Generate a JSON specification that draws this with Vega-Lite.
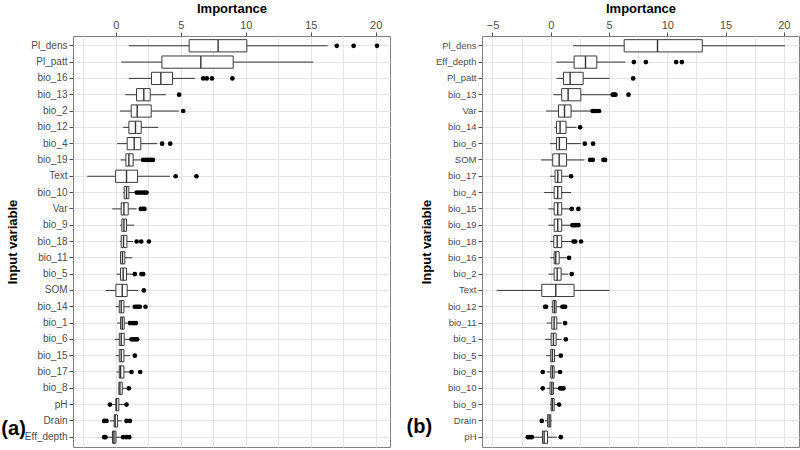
{
  "$schema": "https://vega.github.io/schema/vega-lite/v6.json",
  "background": "white",
  "padding": {"left": 0, "top": 1, "right": 3, "bottom": 2},
  "spacing": 14,
  "config": {
    "font": "Liberation Sans",
    "view": {"stroke": "#808080", "strokeWidth": 1},
    "axis": {
      "labelFont": "Liberation Sans",
      "labelFontSize": 11,
      "labelColor": "#4d4d4d",
      "titleFont": "Liberation Sans",
      "titleFontSize": 13,
      "titleFontWeight": "bold",
      "titleColor": "#000000",
      "domain": false,
      "tickColor": "#4d4d4d",
      "tickSize": 4,
      "labelPadding": 2,
      "gridColor": "#e5e5e5",
      "gridWidth": 1
    }
  },
  "datasets": {
    "a_box": [
      {"v": "Pl_dens", "lo": 1.0, "q1": 5.64, "med": 7.87, "q3": 10.08, "hi": 16.3},
      {"v": "Pl_patt", "lo": 0.41, "q1": 3.54, "med": 6.54, "q3": 9.03, "hi": 15.2},
      {"v": "bio_16", "lo": 1.0, "q1": 2.74, "med": 3.46, "q3": 4.36, "hi": 6.08},
      {"v": "bio_13", "lo": 0.72, "q1": 1.59, "med": 2.15, "q3": 2.64, "hi": 3.85},
      {"v": "bio_2", "lo": 0.31, "q1": 1.18, "med": 1.64, "q3": 2.72, "hi": 4.85},
      {"v": "bio_12", "lo": 0.56, "q1": 1.0, "med": 1.51, "q3": 1.95, "hi": 3.26},
      {"v": "bio_4", "lo": 0.1, "q1": 0.87, "med": 1.41, "q3": 1.92, "hi": 3.18},
      {"v": "bio_19", "lo": 0.36, "q1": 0.77, "med": 1.0, "q3": 1.33, "hi": 2.0},
      {"v": "Text", "lo": -2.2, "q1": -0.02, "med": 0.82, "q3": 1.67, "hi": 4.15},
      {"v": "bio_10", "lo": 0.56, "q1": 0.64, "med": 0.82, "q3": 1.0, "hi": 1.41},
      {"v": "Var", "lo": -0.28, "q1": 0.41, "med": 0.62, "q3": 0.95, "hi": 1.59},
      {"v": "bio_9", "lo": 0.31, "q1": 0.46, "med": 0.62, "q3": 0.82, "hi": 1.41},
      {"v": "bio_18", "lo": 0.31, "q1": 0.41, "med": 0.59, "q3": 0.85, "hi": 1.33},
      {"v": "bio_11", "lo": 0.31, "q1": 0.36, "med": 0.51, "q3": 0.69, "hi": 1.26},
      {"v": "bio_5", "lo": 0.05, "q1": 0.36, "med": 0.56, "q3": 0.82, "hi": 1.33},
      {"v": "SOM", "lo": -0.77, "q1": 0.0, "med": 0.49, "q3": 0.87, "hi": 1.72},
      {"v": "bio_14", "lo": 0.0, "q1": 0.26, "med": 0.41, "q3": 0.62, "hi": 1.08},
      {"v": "bio_1", "lo": 0.1, "q1": 0.36, "med": 0.49, "q3": 0.64, "hi": 0.9},
      {"v": "bio_6", "lo": -0.08, "q1": 0.26, "med": 0.41, "q3": 0.64, "hi": 1.03},
      {"v": "bio_15", "lo": 0.0, "q1": 0.26, "med": 0.41, "q3": 0.62, "hi": 1.08},
      {"v": "bio_17", "lo": 0.05, "q1": 0.26, "med": 0.36, "q3": 0.62, "hi": 1.08},
      {"v": "bio_8", "lo": 0.18, "q1": 0.23, "med": 0.31, "q3": 0.49, "hi": 0.82},
      {"v": "pH", "lo": -0.28, "q1": 0.0, "med": 0.05, "q3": 0.23, "hi": 0.69},
      {"v": "Drain", "lo": -0.46, "q1": -0.13, "med": -0.05, "q3": 0.13, "hi": 0.44},
      {"v": "Eff_depth", "lo": -0.59, "q1": -0.26, "med": -0.15, "q3": 0.0, "hi": 0.44}
    ],
    "a_out": [
      {"v": "Pl_dens", "x": 17.0}, {"v": "Pl_dens", "x": 18.3}, {"v": "Pl_dens", "x": 20.1},
      {"v": "bio_16", "x": 6.72}, {"v": "bio_16", "x": 7.0}, {"v": "bio_16", "x": 7.4}, {"v": "bio_16", "x": 8.97},
      {"v": "bio_13", "x": 4.87},
      {"v": "bio_2", "x": 5.18},
      {"v": "bio_4", "x": 3.56}, {"v": "bio_4", "x": 4.18},
      {"v": "bio_19", "x": 2.1}, {"v": "bio_19", "x": 2.3}, {"v": "bio_19", "x": 2.5}, {"v": "bio_19", "x": 2.7}, {"v": "bio_19", "x": 2.85},
      {"v": "Text", "x": 4.6}, {"v": "Text", "x": 6.2},
      {"v": "bio_10", "x": 1.6}, {"v": "bio_10", "x": 1.8}, {"v": "bio_10", "x": 2.0}, {"v": "bio_10", "x": 2.2}, {"v": "bio_10", "x": 2.36},
      {"v": "Var", "x": 1.92}, {"v": "Var", "x": 2.1}, {"v": "Var", "x": 2.2},
      {"v": "bio_18", "x": 1.6}, {"v": "bio_18", "x": 1.95}, {"v": "bio_18", "x": 2.54},
      {"v": "bio_5", "x": 1.46}, {"v": "bio_5", "x": 1.97}, {"v": "bio_5", "x": 2.1},
      {"v": "SOM", "x": 2.15},
      {"v": "bio_14", "x": 1.46}, {"v": "bio_14", "x": 1.6}, {"v": "bio_14", "x": 1.72}, {"v": "bio_14", "x": 1.85}, {"v": "bio_14", "x": 2.28},
      {"v": "bio_1", "x": 1.08}, {"v": "bio_1", "x": 1.25}, {"v": "bio_1", "x": 1.4}, {"v": "bio_1", "x": 1.55},
      {"v": "bio_6", "x": 1.2}, {"v": "bio_6", "x": 1.35}, {"v": "bio_6", "x": 1.5}, {"v": "bio_6", "x": 1.64},
      {"v": "bio_15", "x": 1.46},
      {"v": "bio_17", "x": 1.2}, {"v": "bio_17", "x": 1.87},
      {"v": "bio_8", "x": 1.0},
      {"v": "pH", "x": -0.46}, {"v": "pH", "x": 0.82},
      {"v": "Drain", "x": -0.9}, {"v": "Drain", "x": -0.72}, {"v": "Drain", "x": 0.82}, {"v": "Drain", "x": 1.08},
      {"v": "Eff_depth", "x": -0.9}, {"v": "Eff_depth", "x": -0.8}, {"v": "Eff_depth", "x": 0.56}, {"v": "Eff_depth", "x": 0.82}, {"v": "Eff_depth", "x": 1.03}
    ],
    "b_box": [
      {"v": "Pl_dens", "lo": 1.92, "q1": 6.3, "med": 9.16, "q3": 13.0, "hi": 20.1},
      {"v": "Eff_depth", "lo": 0.49, "q1": 2.0, "med": 2.98, "q3": 3.95, "hi": 6.41},
      {"v": "Pl_patt", "lo": 0.49, "q1": 1.09, "med": 1.66, "q3": 2.78, "hi": 5.04},
      {"v": "bio_13", "lo": 0.23, "q1": 0.94, "med": 1.49, "q3": 2.58, "hi": 5.21},
      {"v": "Var", "lo": -0.4, "q1": 0.66, "med": 1.18, "q3": 1.74, "hi": 3.52},
      {"v": "bio_14", "lo": 0.32, "q1": 0.49, "med": 0.8, "q3": 1.31, "hi": 2.2},
      {"v": "bio_6", "lo": -0.06, "q1": 0.49, "med": 0.74, "q3": 1.35, "hi": 2.58},
      {"v": "SOM", "lo": -0.83, "q1": 0.17, "med": 0.72, "q3": 1.35, "hi": 2.89},
      {"v": "bio_17", "lo": -0.06, "q1": 0.37, "med": 0.6, "q3": 0.94, "hi": 1.52},
      {"v": "bio_4", "lo": -0.57, "q1": 0.29, "med": 0.6, "q3": 0.94, "hi": 1.74},
      {"v": "bio_15", "lo": -0.2, "q1": 0.29, "med": 0.6, "q3": 0.94, "hi": 1.66},
      {"v": "bio_19", "lo": -0.2, "q1": 0.29, "med": 0.6, "q3": 0.94, "hi": 1.74},
      {"v": "bio_18", "lo": -0.06, "q1": 0.26, "med": 0.55, "q3": 0.94, "hi": 1.8},
      {"v": "bio_16", "lo": -0.06, "q1": 0.29, "med": 0.43, "q3": 0.72, "hi": 1.37},
      {"v": "bio_2", "lo": -0.2, "q1": 0.29, "med": 0.55, "q3": 0.89, "hi": 1.52},
      {"v": "Text", "lo": -4.64, "q1": -0.77, "med": 0.43, "q3": 2.0, "hi": 5.04},
      {"v": "bio_12", "lo": 0.03, "q1": 0.17, "med": 0.32, "q3": 0.46, "hi": 0.88},
      {"v": "bio_11", "lo": -0.34, "q1": 0.09, "med": 0.29, "q3": 0.52, "hi": 0.94},
      {"v": "bio_1", "lo": -0.49, "q1": 0.03, "med": 0.23, "q3": 0.46, "hi": 0.94},
      {"v": "bio_5", "lo": -0.4, "q1": 0.0, "med": 0.14, "q3": 0.32, "hi": 0.66},
      {"v": "bio_8", "lo": -0.34, "q1": 0.0, "med": 0.14, "q3": 0.29, "hi": 0.66},
      {"v": "bio_10", "lo": -0.34, "q1": -0.06, "med": 0.09, "q3": 0.23, "hi": 0.66},
      {"v": "bio_9", "lo": -0.06, "q1": 0.03, "med": 0.14, "q3": 0.29, "hi": 0.52},
      {"v": "Drain", "lo": -0.49, "q1": -0.27, "med": -0.14, "q3": 0.0, "hi": 0.09},
      {"v": "pH", "lo": -1.49, "q1": -0.71, "med": -0.57, "q3": -0.28, "hi": 0.52}
    ],
    "b_out": [
      {"v": "Eff_depth", "x": 7.13}, {"v": "Eff_depth", "x": 8.16}, {"v": "Eff_depth", "x": 10.76}, {"v": "Eff_depth", "x": 11.25},
      {"v": "Pl_patt", "x": 7.07},
      {"v": "bio_13", "x": 5.32}, {"v": "bio_13", "x": 5.45}, {"v": "bio_13", "x": 5.55}, {"v": "bio_13", "x": 6.67},
      {"v": "Var", "x": 3.6}, {"v": "Var", "x": 3.75}, {"v": "Var", "x": 3.89}, {"v": "Var", "x": 4.15},
      {"v": "bio_14", "x": 2.52},
      {"v": "bio_6", "x": 2.92}, {"v": "bio_6", "x": 3.63},
      {"v": "SOM", "x": 3.38}, {"v": "SOM", "x": 3.6}, {"v": "SOM", "x": 4.52}, {"v": "SOM", "x": 4.66},
      {"v": "bio_17", "x": 1.74},
      {"v": "bio_15", "x": 1.8}, {"v": "bio_15", "x": 2.37},
      {"v": "bio_19", "x": 1.86}, {"v": "bio_19", "x": 2.0}, {"v": "bio_19", "x": 2.15}, {"v": "bio_19", "x": 2.37},
      {"v": "bio_18", "x": 1.95}, {"v": "bio_18", "x": 2.1}, {"v": "bio_18", "x": 2.6},
      {"v": "bio_16", "x": 1.57},
      {"v": "bio_2", "x": 1.8},
      {"v": "bio_12", "x": -0.49}, {"v": "bio_12", "x": -0.4}, {"v": "bio_12", "x": 1.0}, {"v": "bio_12", "x": 1.12}, {"v": "bio_12", "x": 1.23},
      {"v": "bio_11", "x": 1.23},
      {"v": "bio_1", "x": 1.29},
      {"v": "bio_5", "x": 0.86},
      {"v": "bio_8", "x": -0.69}, {"v": "bio_8", "x": 0.8},
      {"v": "bio_10", "x": -0.69}, {"v": "bio_10", "x": 0.8}, {"v": "bio_10", "x": 0.95}, {"v": "bio_10", "x": 1.09},
      {"v": "bio_9", "x": 0.72},
      {"v": "Drain", "x": -0.77},
      {"v": "pH", "x": -1.97}, {"v": "pH", "x": -1.8}, {"v": "pH", "x": -1.63}, {"v": "pH", "x": 0.86}
    ]
  },
  "hconcat": [
    {
      "width": 317,
      "height": 411,
      "view": {"stroke": "#808080", "strokeWidth": 1},
      "title": {"text": "(a)", "orient": "bottom", "anchor": "start", "frame": "bounds", "fontSize": 20, "fontWeight": "bold", "font": "Liberation Sans", "color": "#000000", "dx": -5, "dy": -32},
      "encoding": {
        "y": {
          "field": "v", "type": "nominal", "title": "Input variable",
          "scale": {"type": "band", "paddingInner": 0, "paddingOuter": 0.1,
            "domain": ["Pl_dens", "Pl_patt", "bio_16", "bio_13", "bio_2", "bio_12", "bio_4", "bio_19", "Text", "bio_10", "Var", "bio_9", "bio_18", "bio_11", "bio_5", "SOM", "bio_14", "bio_1", "bio_6", "bio_15", "bio_17", "bio_8", "pH", "Drain", "Eff_depth"]},
          "axis": {"grid": true, "bandPosition": 0.5, "labelPadding": 2, "titlePadding": 5, "labelFontSize": 10}
        }
      },
      "layer": [
        {
          "data": {"name": "a_box"},
          "mark": {"type": "rule", "color": "#333333", "strokeWidth": 1},
          "encoding": {
            "x": {"field": "lo", "type": "quantitative", "title": "Importance",
              "scale": {"domain": [-3.3, 21.1], "nice": false, "zero": false},
              "axis": {"orient": "top", "values": [-2.5, 0, 2.5, 5, 7.5, 10, 12.5, 15, 17.5, 20], "grid": true,
                "labelExpr": "datum.value % 5 === 0 ? datum.label : ''",
                "tickOpacity": {"condition": {"test": "datum.value % 5 !== 0", "value": 0}, "value": 1},
                "titlePadding": 4}},
            "x2": {"field": "hi"}
          }
        },
        {
          "data": {"name": "a_box"},
          "mark": {"type": "bar", "fill": "white", "stroke": "#3a3a3a", "strokeWidth": 1, "height": {"band": 0.75}},
          "encoding": {
            "x": {"field": "q1", "type": "quantitative", "title": "Importance",
              "scale": {"domain": [-3.3, 21.1], "nice": false, "zero": false},
              "axis": {"orient": "top", "values": [-2.5, 0, 2.5, 5, 7.5, 10, 12.5, 15, 17.5, 20], "grid": true,
                "labelExpr": "datum.value % 5 === 0 ? datum.label : ''",
                "tickOpacity": {"condition": {"test": "datum.value % 5 !== 0", "value": 0}, "value": 1},
                "titlePadding": 4}},
            "x2": {"field": "q3"}
          }
        },
        {
          "data": {"name": "a_box"},
          "mark": {"type": "bar", "fill": "white", "stroke": "#333333", "strokeWidth": 1.4, "height": {"band": 0.75}},
          "encoding": {
            "x": {"field": "med", "type": "quantitative", "title": "Importance",
              "scale": {"domain": [-3.3, 21.1], "nice": false, "zero": false},
              "axis": {"orient": "top", "values": [-2.5, 0, 2.5, 5, 7.5, 10, 12.5, 15, 17.5, 20], "grid": true,
                "labelExpr": "datum.value % 5 === 0 ? datum.label : ''",
                "tickOpacity": {"condition": {"test": "datum.value % 5 !== 0", "value": 0}, "value": 1},
                "titlePadding": 4}},
            "x2": {"field": "med"}
          }
        },
        {
          "data": {"name": "a_out"},
          "mark": {"type": "point", "filled": true, "color": "#000000", "opacity": 1, "size": 22},
          "encoding": {
            "x": {"field": "x", "type": "quantitative", "title": "Importance",
              "scale": {"domain": [-3.3, 21.1], "nice": false, "zero": false},
              "axis": {"orient": "top", "values": [-2.5, 0, 2.5, 5, 7.5, 10, 12.5, 15, 17.5, 20], "grid": true,
                "labelExpr": "datum.value % 5 === 0 ? datum.label : ''",
                "tickOpacity": {"condition": {"test": "datum.value % 5 !== 0", "value": 0}, "value": 1},
                "titlePadding": 4}}
          }
        }
      ]
    },
    {
      "width": 317,
      "height": 411,
      "view": {"stroke": "#808080", "strokeWidth": 1},
      "title": {"text": "(b)", "orient": "bottom", "anchor": "start", "frame": "bounds", "fontSize": 20, "fontWeight": "bold", "font": "Liberation Sans", "color": "#000000", "dx": -14, "dy": -34},
      "encoding": {
        "y": {
          "field": "v", "type": "nominal", "title": "Input variable",
          "scale": {"type": "band", "paddingInner": 0, "paddingOuter": 0.1,
            "domain": ["Pl_dens", "Eff_depth", "Pl_patt", "bio_13", "Var", "bio_14", "bio_6", "SOM", "bio_17", "bio_4", "bio_15", "bio_19", "bio_18", "bio_16", "bio_2", "Text", "bio_12", "bio_11", "bio_1", "bio_5", "bio_8", "bio_10", "bio_9", "Drain", "pH"]},
          "axis": {"grid": true, "bandPosition": 0.5, "labelPadding": 2, "titlePadding": 2, "labelFontSize": 9.5}
        }
      },
      "layer": [
        {
          "data": {"name": "b_box"},
          "mark": {"type": "rule", "color": "#333333", "strokeWidth": 1},
          "encoding": {
            "x": {"field": "lo", "type": "quantitative", "title": "Importance",
              "scale": {"domain": [-5.9, 21.3], "nice": false, "zero": false},
              "axis": {"orient": "top", "values": [-5, -2.5, 0, 2.5, 5, 7.5, 10, 12.5, 15, 17.5, 20], "grid": true,
                "labelExpr": "datum.value % 5 === 0 ? datum.label : ''",
                "tickOpacity": {"condition": {"test": "datum.value % 5 !== 0", "value": 0}, "value": 1},
                "titlePadding": 4}},
            "x2": {"field": "hi"}
          }
        },
        {
          "data": {"name": "b_box"},
          "mark": {"type": "bar", "fill": "white", "stroke": "#3a3a3a", "strokeWidth": 1, "height": {"band": 0.75}},
          "encoding": {
            "x": {"field": "q1", "type": "quantitative", "title": "Importance",
              "scale": {"domain": [-5.9, 21.3], "nice": false, "zero": false},
              "axis": {"orient": "top", "values": [-5, -2.5, 0, 2.5, 5, 7.5, 10, 12.5, 15, 17.5, 20], "grid": true,
                "labelExpr": "datum.value % 5 === 0 ? datum.label : ''",
                "tickOpacity": {"condition": {"test": "datum.value % 5 !== 0", "value": 0}, "value": 1},
                "titlePadding": 4}},
            "x2": {"field": "q3"}
          }
        },
        {
          "data": {"name": "b_box"},
          "mark": {"type": "bar", "fill": "white", "stroke": "#333333", "strokeWidth": 1.4, "height": {"band": 0.75}},
          "encoding": {
            "x": {"field": "med", "type": "quantitative", "title": "Importance",
              "scale": {"domain": [-5.9, 21.3], "nice": false, "zero": false},
              "axis": {"orient": "top", "values": [-5, -2.5, 0, 2.5, 5, 7.5, 10, 12.5, 15, 17.5, 20], "grid": true,
                "labelExpr": "datum.value % 5 === 0 ? datum.label : ''",
                "tickOpacity": {"condition": {"test": "datum.value % 5 !== 0", "value": 0}, "value": 1},
                "titlePadding": 4}},
            "x2": {"field": "med"}
          }
        },
        {
          "data": {"name": "b_out"},
          "mark": {"type": "point", "filled": true, "color": "#000000", "opacity": 1, "size": 22},
          "encoding": {
            "x": {"field": "x", "type": "quantitative", "title": "Importance",
              "scale": {"domain": [-5.9, 21.3], "nice": false, "zero": false},
              "axis": {"orient": "top", "values": [-5, -2.5, 0, 2.5, 5, 7.5, 10, 12.5, 15, 17.5, 20], "grid": true,
                "labelExpr": "datum.value % 5 === 0 ? datum.label : ''",
                "tickOpacity": {"condition": {"test": "datum.value % 5 !== 0", "value": 0}, "value": 1},
                "titlePadding": 4}}
          }
        }
      ]
    }
  ]
}
